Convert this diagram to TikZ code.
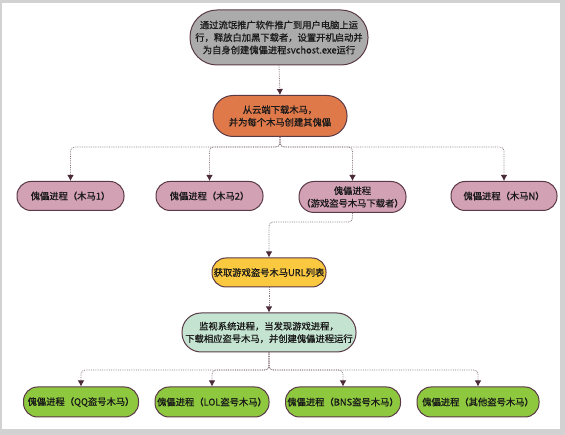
\documentclass[tikz,border=0pt]{standalone}
\usepackage{fontspec}
\setmainfont{Noto Sans CJK SC}[FakeBold=0.7,AutoFakeBold=0.7]
\usetikzlibrary{arrows.meta}
\definecolor{bord}{HTML}{5B3A47}
\definecolor{lineg}{HTML}{8A7A80}
\definecolor{tipc}{HTML}{4A2A38}
\definecolor{cgray}{HTML}{ABABAB}
\definecolor{corange}{HTML}{E0794A}
\definecolor{cpink}{HTML}{D3A1B4}
\definecolor{cyellow}{HTML}{FBC940}
\definecolor{cmint}{HTML}{C4E3D0}
\definecolor{clime}{HTML}{8DC83E}
\definecolor{frame}{HTML}{D2D2D2}
\begin{document}
\begin{tikzpicture}[x=1pt,y=-1pt,
  box/.style={rectangle, draw=bord, line width=1pt, inner sep=0pt, align=center,
    font=\fontsize{9.3}{12.5}\selectfont\bfseries, text=black!90},
  conn/.style={draw=lineg, densely dotted, line width=0.8pt, rounded corners=4pt,
    -{Latex[length=6pt,width=6.5pt,color=tipc]}}]
\useasboundingbox (0,0) rectangle (565,435);
\fill[frame] (0,0) rectangle (565,435);
\fill[white] (2,3) rectangle (560,429);

\node[box, fill=cgray, minimum width=178pt, minimum height=55pt, rounded corners=27pt] (top) at (279,37.5)
  {通过流氓推广软件推广到用户电脑上运\\行，释放白加黑下载者，设置开机启动并\\为自身创建傀儡进程svchost.exe运行};
\node[box, fill=corange, minimum width=134pt, minimum height=41pt, rounded corners=20pt] (org) at (280,116)
  {从云端下载木马，\\并为每个木马创建其傀儡};

\node[box, fill=cpink, minimum width=107pt, minimum height=29pt, rounded corners=14pt] (p1) at (70.5,196) {傀儡进程（木马1）};
\node[box, fill=cpink, minimum width=107pt, minimum height=29pt, rounded corners=14pt] (p2) at (209.5,196) {傀儡进程（木马2）};
\node[box, fill=cpink, minimum width=107pt, minimum height=31pt, rounded corners=15pt] (p3) at (352.5,197) {傀儡进程\\（游戏盗号木马下载者）};
\node[box, fill=cpink, minimum width=106pt, minimum height=29pt, rounded corners=14pt] (p4) at (504,196) {傀儡进程（木马N）};

\node[box, fill=cyellow, minimum width=114pt, minimum height=29pt, rounded corners=14pt] (yl) at (269,272.5) {获取游戏盗号木马URL列表};
\node[box, fill=cmint, minimum width=174pt, minimum height=39pt, rounded corners=19pt] (gr) at (269,332.5)
  {监视系统进程，当发现游戏进程，\\下载相应盗号木马，并创建傀儡进程运行};

\node[box, fill=clime, minimum width=115pt, minimum height=30pt, rounded corners=14pt] (b1) at (81,402) {傀儡进程（QQ盗号木马）};
\node[box, fill=clime, minimum width=114pt, minimum height=30pt, rounded corners=14pt] (b2) at (212,402) {傀儡进程（LOL盗号木马）};
\node[box, fill=clime, minimum width=115pt, minimum height=30pt, rounded corners=14pt] (b3) at (343,402) {傀儡进程（BNS盗号木马）};
\node[box, fill=clime, minimum width=122pt, minimum height=30pt, rounded corners=14pt] (b4) at (478,402) {傀儡进程（其他盗号木马）};

\coordinate (bus1) at (0,147);
\coordinate (bus2) at (0,222);
\coordinate (bus3) at (0,370);

\draw[conn] (top.south) -- (org.north);
\foreach \n in {p1,p2,p3,p4}
  \draw[conn] (org.south) -- (org.south |- bus1) -| (\n.north);
\draw[conn] (p3.south) -- (p3.south |- bus2) -| (yl.north);
\draw[conn] (yl.south) -- (gr.north);
\foreach \n in {b1,b2,b3,b4}
  \draw[conn] (gr.south) -- (gr.south |- bus3) -| (\n.north);
\end{tikzpicture}
\end{document}
